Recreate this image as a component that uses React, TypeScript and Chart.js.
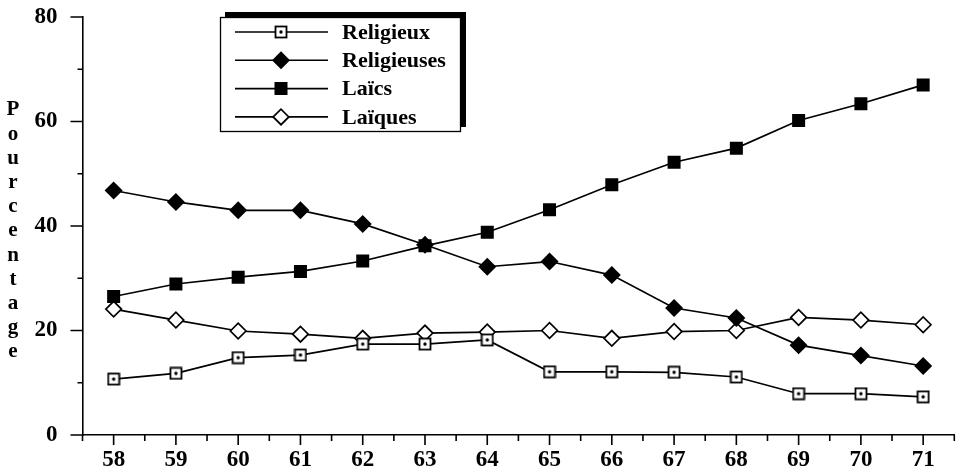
import React, { useEffect, useRef } from "react";
import { Chart, registerables } from "chart.js";

Chart.register(...registerables);

const years = ["58", "59", "60", "61", "62", "63", "64", "65", "66", "67", "68", "69", "70", "71"];
const religieux = [10.7, 11.8, 14.8, 15.3, 17.4, 17.4, 18.2, 12.1, 12.1, 12.0, 11.1, 7.9, 7.9, 7.3];
const religieuses = [46.8, 44.6, 43.0, 43.0, 40.4, 36.4, 32.2, 33.2, 30.6, 24.3, 22.4, 17.2, 15.2, 13.2];
const laics = [26.5, 28.9, 30.2, 31.3, 33.3, 36.2, 38.8, 43.1, 47.9, 52.2, 54.9, 60.2, 63.4, 67.0];
const laiques = [24.1, 22.0, 19.9, 19.3, 18.5, 19.5, 19.7, 20.0, 18.5, 19.8, 20.0, 22.5, 22.0, 21.1];
const seriesNames = ["Religieux", "Religieuses", "Laïcs", "Laïques"];
const yTicks = [0, 20, 40, 60, 80];
const yMinorTicks = [10, 30, 50, 70];
const axisTitle = "Pourcentage";

const FONT = "'Liberation Serif', 'Times New Roman', serif";

function makeDotSquare(): HTMLCanvasElement {
  const c = document.createElement("canvas");
  c.width = 14;
  c.height = 14;
  const g = c.getContext("2d")!;
  g.fillStyle = "#fff";
  g.fillRect(1, 1, 12, 12);
  g.strokeStyle = "#000";
  g.lineWidth = 1.8;
  g.strokeRect(1.5, 1.5, 11, 11);
  g.fillStyle = "#000";
  g.beginPath();
  g.arc(7, 7, 1.7, 0, Math.PI * 2);
  g.fill();
  return c;
}

const decorPlugin = {
  id: "decor",
  afterDraw(chart: any) {
    const ctx = chart.ctx;
    const { left, bottom } = chart.chartArea;
    const xs = chart.scales.x;
    const ys = chart.scales.y;
    ctx.save();
    ctx.strokeStyle = "#000";
    ctx.lineWidth = 1.6;
    ctx.beginPath();
    yTicks.forEach((v) => {
      const p = ys.getPixelForValue(v);
      ctx.moveTo(left - 12, p);
      ctx.lineTo(left, p);
    });
    yMinorTicks.forEach((v) => {
      const p = ys.getPixelForValue(v);
      ctx.moveTo(left - 5, p);
      ctx.lineTo(left, p);
    });
    years.forEach((_, i) => {
      const p = xs.getPixelForValue(i);
      ctx.moveTo(p, bottom);
      ctx.lineTo(p, bottom + 10);
    });
    for (let i = 0; i <= years.length; i++) {
      const p = xs.getPixelForValue(i - 0.5);
      ctx.moveTo(p, bottom);
      ctx.lineTo(p, bottom + 6);
    }
    ctx.stroke();

    // vertical stacked axis title
    ctx.fillStyle = "#000";
    ctx.font = `bold 21px ${FONT}`;
    ctx.textAlign = "center";
    ctx.textBaseline = "middle";
    const letters = axisTitle.split("");
    letters.forEach((ch, i) => {
      ctx.fillText(ch, 13, 110 + i * 24.2);
    });

    // legend
    const bx = 220, by = 17, bw = 241, bh = 115;
    ctx.fillStyle = "#000";
    ctx.fillRect(bx + 5, by - 5, bw, bh);
    ctx.fillStyle = "#fff";
    ctx.fillRect(bx, by, bw, bh);
    ctx.strokeStyle = "#000";
    ctx.lineWidth = 1.3;
    ctx.strokeRect(bx + 0.5, by + 0.5, bw - 1, bh - 1);
    chart.data.datasets.forEach((ds: any, i: number) => {
      const ry = 32 + i * 28.3;
      ctx.strokeStyle = "#000";
      ctx.lineWidth = 1.6;
      ctx.beginPath();
      ctx.moveTo(235, ry);
      ctx.lineTo(328, ry);
      ctx.stroke();
      const style = ds.pointStyle;
      if (style instanceof HTMLCanvasElement) {
        ctx.drawImage(style, 281 - style.width / 2, ry - style.height / 2);
      } else {
        ctx.fillStyle = ds.pointBackgroundColor;
        ctx.strokeStyle = ds.pointBorderColor;
        ctx.lineWidth = ds.pointBorderWidth;
        const r = ds.pointRadius;
        ctx.beginPath();
        if (style === "rectRot") {
          ctx.moveTo(281 - r, ry);
          ctx.lineTo(281, ry - r);
          ctx.lineTo(281 + r, ry);
          ctx.lineTo(281, ry + r);
          ctx.closePath();
        } else {
          const s = Math.SQRT1_2 * r;
          ctx.rect(281 - s, ry - s, 2 * s, 2 * s);
        }
        ctx.fill();
        ctx.stroke();
      }
      ctx.fillStyle = "#000";
      ctx.font = `bold 22px ${FONT}`;
      ctx.textAlign = "left";
      ctx.textBaseline = "middle";
      ctx.fillText(ds.label, 342, ry + 1);
    });
    ctx.restore();
  },
};

export default function App() {
  const ref = useRef<HTMLCanvasElement>(null);
  useEffect(() => {
    const dotSquare = makeDotSquare();
    const common = {
      borderColor: "#000",
      borderWidth: 1.7,
      pointBorderColor: "#000",
      pointBorderWidth: 1.7,
      tension: 0,
      fill: false,
    };
    const chart = new Chart(ref.current!, {
      type: "line",
      data: {
        labels: years,
        datasets: [
          { ...common, label: seriesNames[0], data: religieux, pointStyle: dotSquare as any, pointRadius: 7, pointBackgroundColor: "#fff" },
          { ...common, label: seriesNames[1], data: religieuses, pointStyle: "rectRot", pointRadius: 7.8, pointBackgroundColor: "#000" },
          { ...common, label: seriesNames[2], data: laics, pointStyle: "rect", pointRadius: 8, pointBackgroundColor: "#000" },
          { ...common, label: seriesNames[3], data: laiques, pointStyle: "rectRot", pointRadius: 7.8, pointBackgroundColor: "#fff" },
        ],
      },
      options: {
        animation: false,
        responsive: true,
        maintainAspectRatio: false,
        layout: { padding: { top: 17, right: 0, bottom: 0, left: 0 } },
        plugins: { legend: { display: false }, tooltip: { enabled: false } },
        scales: {
          x: {
            type: "category",
            offset: true,
            grid: { display: true, drawOnChartArea: false, drawTicks: false },
            border: { display: true, color: "#000", width: 1.6 },
            ticks: { color: "#000", font: { family: FONT, size: 23, weight: "bold" }, padding: 11, maxRotation: 0, autoSkip: false },
            afterFit: (s: any) => {
              s.height = 34;
              s.paddingLeft = 0;
              s.paddingRight = 0;
            },
          },
          y: {
            min: 0,
            max: 80,
            grid: { display: true, drawOnChartArea: false, drawTicks: false },
            border: { display: true, color: "#000", width: 1.6 },
            ticks: { stepSize: 20, color: "#000", font: { family: FONT, size: 23, weight: "bold" }, padding: 25 },
            afterFit: (s: any) => {
              s.width = 82.5;
              s.paddingTop = 0;
              s.paddingBottom = 0;
            },
          },
        },
      },
      plugins: [decorPlugin],
    });
    return () => chart.destroy();
  }, []);
  return (
    <div style={{ position: "fixed", left: 0, top: 0, width: 964, height: 469, background: "#fff" }}>
      <canvas ref={ref} />
    </div>
  );
}
